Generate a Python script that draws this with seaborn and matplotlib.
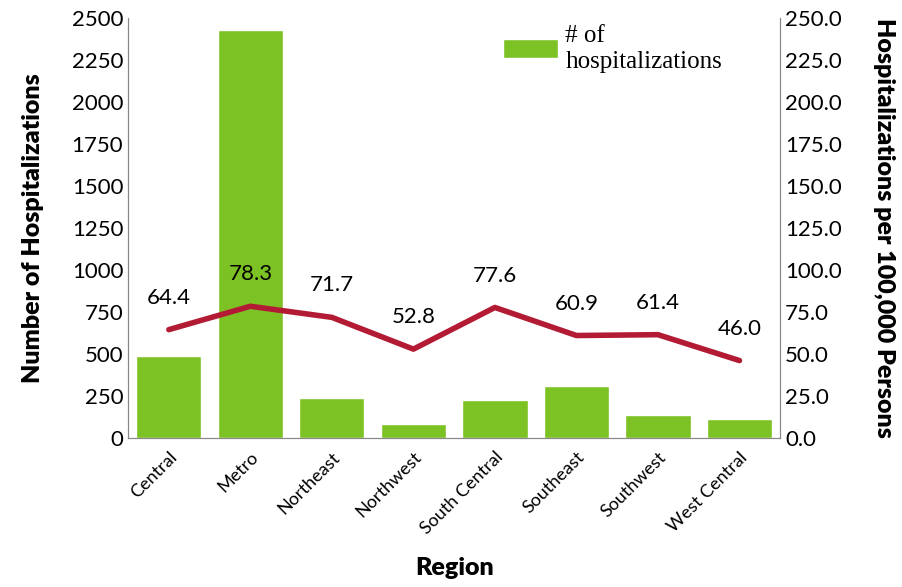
import matplotlib
matplotlib.use('Agg')
import matplotlib.pyplot as plt
import seaborn as sns
import pandas as pd

regions = ['Central', 'Metro', 'Northeast', 'Northwest', 'South Central', 'Southeast', 'Southwest', 'West Central']
hospitalizations = [490, 2425, 235, 85, 228, 310, 135, 115]
rates = [64.4, 78.3, 71.7, 52.8, 77.6, 60.9, 61.4, 46.0]

sns.set_style('white')
plt.rcParams['font.family'] = ['Lato', 'DejaVu Sans']
plt.rcParams['text.color'] = 'black'
plt.rcParams['axes.labelcolor'] = 'black'
plt.rcParams['xtick.color'] = 'black'
plt.rcParams['ytick.color'] = 'black'

df = pd.DataFrame({'Region': regions, 'Count': hospitalizations, 'Rate': rates})

fig = plt.figure(figsize=(9.02, 5.87), dpi=100)
ax = fig.add_axes([0.142, 0.254, 0.723, 0.716])
sns.barplot(data=df, x='Region', y='Count', color='#7dc225', saturation=1, width=0.8, ax=ax, label='# of\nhospitalizations')
ax.set_ylim(0, 2500)
ax.set_yticks(range(0, 2501, 250))
ax.set_xlim(-0.5, 7.5)
ax.set_ylabel('Number of Hospitalizations', fontsize=18, fontweight='heavy', labelpad=20)
ax.set_xlabel('Region', fontsize=18, fontweight='heavy', labelpad=14)
ax.tick_params(axis='y', labelsize=16, length=0)
ax.tick_params(axis='x', labelsize=13, length=0, pad=8)
plt.setp(ax.get_xticklabels(), rotation=45, ha='right', rotation_mode='anchor')

ax2 = ax.twinx()
ax2.plot(range(len(regions)), rates, color='#b31b34', linewidth=4)
for i, r in enumerate(rates):
    ax2.text(i, r + 19, f'{r:.1f}', ha='center', va='center', fontsize=16)
ax2.set_ylim(0, 250)
ax2.set_yticks(range(0, 251, 25))
ax2.set_yticklabels([f'{v:.1f}' for v in range(0, 251, 25)])
ax2.tick_params(axis='y', labelsize=16, length=0)
ax2.set_ylabel('Hospitalizations per 100,000 Persons', fontsize=18, fontweight='heavy', rotation=270, labelpad=38)

for a in (ax, ax2):
    a.spines['top'].set_visible(False)
    for s in ('left', 'right', 'bottom'):
        a.spines[s].set_color('#888888')

ax.legend(loc='upper left', bbox_to_anchor=(0.54, 1.035), frameon=False,
          prop={'family': 'Liberation Serif', 'size': 18}, handlelength=2.2, handleheight=0.8,
          handletextpad=0.3)

fig.savefig('out.png', dpi=100)
